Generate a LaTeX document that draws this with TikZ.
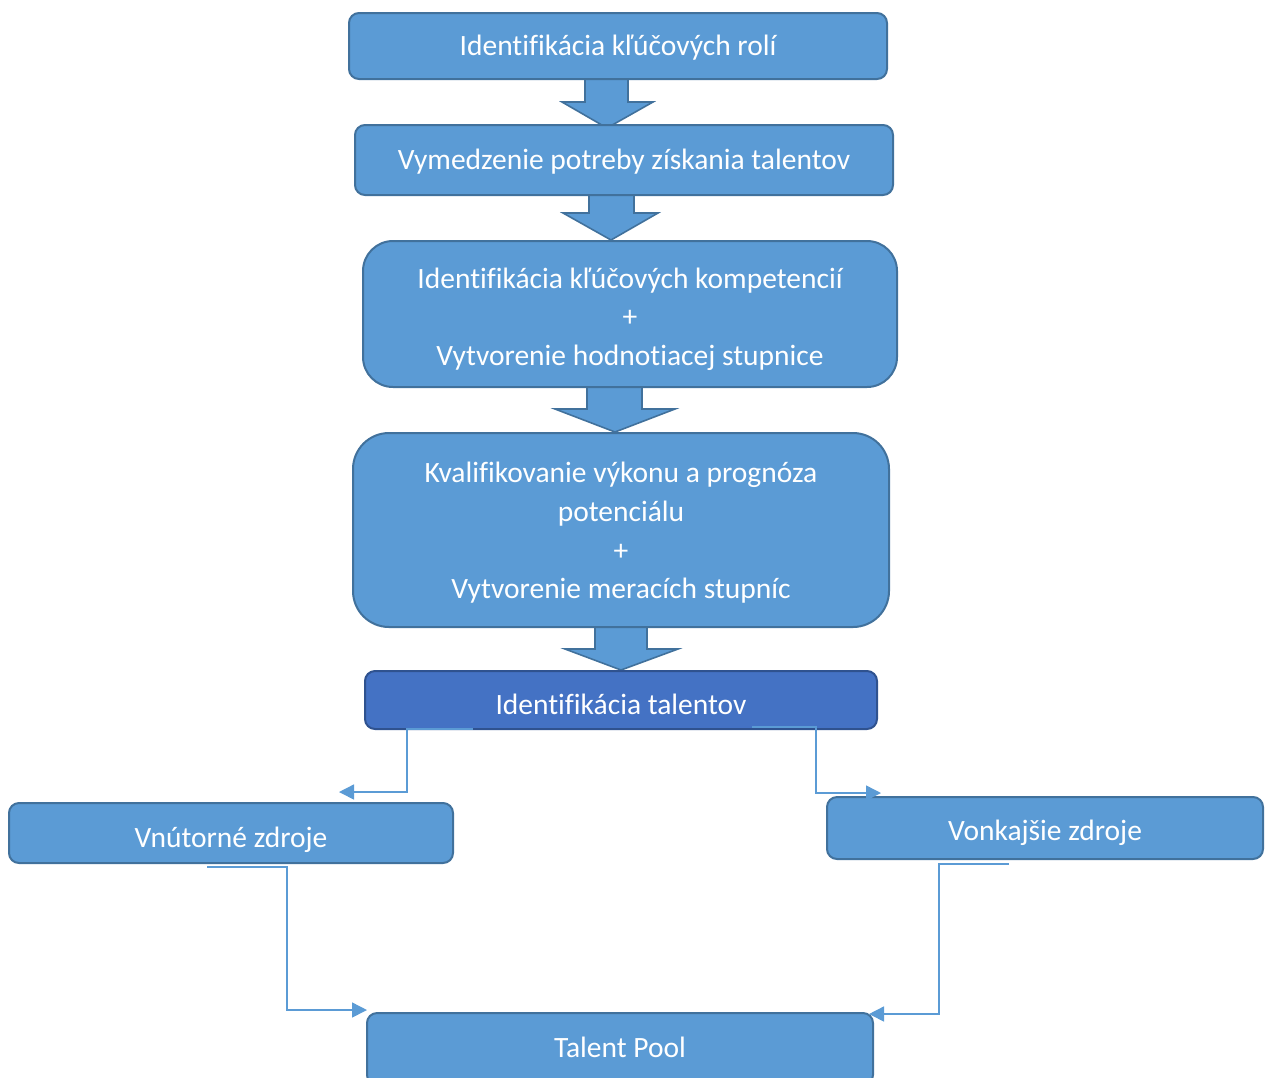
\documentclass[tikz,border=0pt]{standalone}
\usepackage{fontspec}
\setmainfont[Ligatures=NoCommon]{Carlito}
\usetikzlibrary{arrows.meta,calc}
\definecolor{boxfill}{HTML}{5B9BD5}
\definecolor{boxline}{HTML}{41719C}
\definecolor{darkfill}{HTML}{4472C4}
\definecolor{darkline}{HTML}{2F528F}
\definecolor{conn}{HTML}{5B9BD5}
\begin{document}
\begin{tikzpicture}[x=1pt,y=-1pt,
  box/.style={draw=boxline, fill=boxfill, line width=2pt, rounded corners=10pt, inner sep=0pt},
  darkbox/.style={box, draw=darkline, fill=darkfill},
  boxtext/.style={text=white, font=\fontsize{29.5}{38.7}\selectfont, align=center, inner sep=0pt},
  blockarrow/.style={draw=boxline, fill=boxfill, line width=1.6pt, line join=miter},
  connector/.style={draw=conn, line width=1.5pt, -{Triangle[length=15pt,width=15pt]}}]
\clip (0,0) rectangle (1265,1077);
\useasboundingbox (0,0) rectangle (1265,1077);
% block arrows
\draw[blockarrow] (585,76) -- (628,76) -- (628,102) -- (653,102) -- (607,128) -- (562,102) -- (585,102) -- cycle;
\draw[blockarrow] (589,192) -- (634,192) -- (634,213) -- (658,213) -- (611,240) -- (563,213) -- (589,213) -- cycle;
\draw[blockarrow] (587,384) -- (642,384) -- (642,409) -- (675,409) -- (615,432) -- (555,409) -- (587,409) -- cycle;
\draw[blockarrow] (595,624) -- (647,624) -- (647,649) -- (678,649) -- (621,670) -- (565,649) -- (595,649) -- cycle;
% boxes
\node[box, minimum width=538pt, minimum height=66pt] (b1) at (618,46) {};
\node[boxtext] (b1t) at (618,48) {Identifikácia kľúčových rolí};
\node[box, minimum width=538pt, minimum height=70pt] (b2) at (624,160) {};
\node[boxtext] (b2t) at (624,162) {Vymedzenie potreby získania talentov};
\node[box, rounded corners=30pt, minimum width=534pt, minimum height=146pt] (b3) at (630,314) {};
\node[boxtext] (b3t) at (630,319) {Identifikácia kľúčových kompetencií\\+\\Vytvorenie hodnotiacej stupnice};
\node[box, rounded corners=36pt, minimum width=536pt, minimum height=194pt] (b4) at (621,530) {};
\node[boxtext] (b4t) at (621,533) {Kvalifikovanie výkonu a prognóza\\potenciálu\\+\\Vytvorenie meracích stupníc};
\node[darkbox, minimum width=512pt, minimum height=58pt] (talent) at (621,700) {};
\node[boxtext] (talentt) at (621,704) {Identifikácia talentov};
\node[box, minimum width=444pt, minimum height=60pt] (inner) at (231,833) {};
\node[boxtext] (innert) at (231,840) {Vnútorné zdroje};
\node[box, minimum width=436pt, minimum height=62pt] (outer) at (1045,828) {};
\node[boxtext] (outert) at (1045,833) {Vonkajšie zdroje};
\node[box, minimum width=506pt, minimum height=72pt] (pool) at (620,1049) {};
\node[boxtext] (poolt) at (620,1047) {Talent Pool};
% connectors
\coordinate (c1s) at (473,729);
\coordinate (c1e) at (339,792);
\coordinate (c2s) at (752,727);
\coordinate (c2e) at (881,793);
\coordinate (c3s) at (207,867);
\coordinate (c3e) at (367,1010);
\coordinate (c4s) at (1009,864);
\coordinate (c4e) at (869,1014);
\draw[connector] (c1s) -- (407,729) -- (407,792) -- (c1e);
\draw[connector] (c2s) -- (816,727) -- (816,793) -- (c2e);
\draw[connector] (c3s) -- (287,867) -- (287,1010) -- (c3e);
\draw[connector] (c4s) -- (939,864) -- (939,1014) -- (c4e);
\end{tikzpicture}
\end{document}
